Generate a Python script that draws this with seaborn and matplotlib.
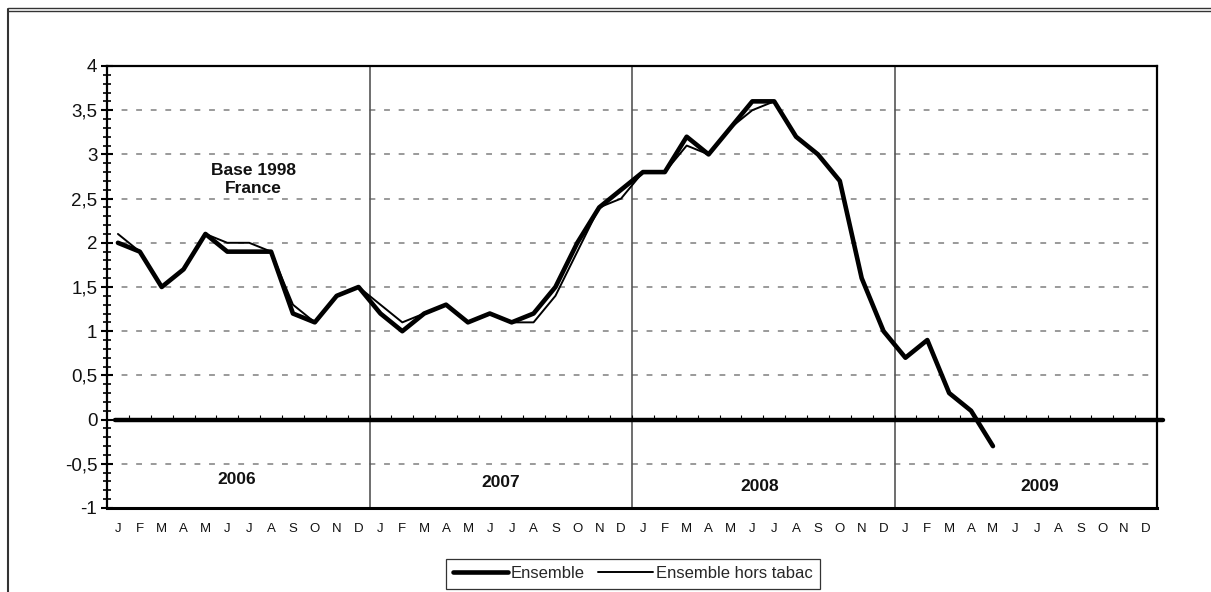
import numpy as np
import pandas as pd
import seaborn as sns
import matplotlib.pyplot as plt
from matplotlib.lines import Line2D
from matplotlib.ticker import MultipleLocator

# ---------------- data ----------------
months = ["J", "F", "M", "A", "M", "J", "J", "A", "S", "O", "N", "D"] * 4
years = ["2006", "2007", "2008", "2009"]
ensemble = [2.0, 1.9, 1.5, 1.7, 2.1, 1.9, 1.9, 1.9, 1.2, 1.1, 1.4, 1.5,
            1.2, 1.0, 1.2, 1.3, 1.1, 1.2, 1.1, 1.2, 1.5, 2.0, 2.4, 2.6,
            2.8, 2.8, 3.2, 3.0, 3.3, 3.6, 3.6, 3.2, 3.0, 2.7, 1.6, 1.0,
            0.7, 0.9, 0.3, 0.1, -0.3]
hors_tabac = [2.1, 1.9, 1.5, 1.7, 2.1, 2.0, 2.0, 1.9, 1.3, 1.1, 1.4, 1.5,
              1.3, 1.1, 1.2, 1.3, 1.1, 1.2, 1.1, 1.1, 1.4, 1.9, 2.4, 2.5,
              2.8, 2.8, 3.1, 3.0, 3.3, 3.5, 3.6, 3.2, 3.0, 2.7, 1.6, 1.0,
              0.7, 0.9, 0.3, 0.1, -0.3]
ytick_values = [-1, -0.5, 0, 0.5, 1, 1.5, 2, 2.5, 3, 3.5, 4]
ytick_labels = ["-1", "-0,5", "0", "0,5", "1", "1,5", "2", "2,5", "3", "3,5", "4"]
series_names = ["Ensemble", "Ensemble hors tabac"]
annotation = "Base 1998\nFrance"

# ---------------- style ----------------
sns.set_theme(style="white")
plt.rcParams["font.family"] = ["Liberation Sans", "DejaVu Sans"]

W, H = 1211, 592
fig = plt.figure(figsize=(W / 100, H / 100), dpi=100)
fig.patch.set_facecolor("white")
ax = fig.add_axes([107 / W, 1 - 508 / H, 1050 / W, 442 / H])

df = pd.DataFrame({
    "t": list(range(len(ensemble))) + list(range(len(hors_tabac))),
    "v": ensemble + hors_tabac,
    "s": [series_names[0]] * len(ensemble) + [series_names[1]] * len(hors_tabac),
})

sns.lineplot(data=df[df.s == series_names[0]], x="t", y="v", ax=ax,
             color="black", linewidth=3.3, label=series_names[0], zorder=5)
sns.lineplot(data=df[df.s == series_names[1]], x="t", y="v", ax=ax,
             color="black", linewidth=1.4, label=series_names[1], zorder=6)
handles, labels = ax.get_legend_handles_labels()
if ax.get_legend() is not None:
    ax.get_legend().remove()

n = len(months)
ax.set_xlim(-0.5, n - 0.5)
ax.set_ylim(-1, 4)
ax.set_xlabel("")
ax.set_ylabel("")

# x ticks: month initials
ax.set_xticks(np.arange(n))
ax.set_xticklabels(months, fontsize=9.5, color="#111111")
ax.tick_params(axis="x", which="both", length=0, pad=11, bottom=False)

# y ticks
ax.set_yticks(ytick_values)
ax.set_yticklabels(ytick_labels, fontsize=13.5, color="#111111")
ax.yaxis.set_minor_locator(MultipleLocator(0.1))
ax.tick_params(axis="y", which="major", left=True, direction="inout",
               length=8, width=1.5, pad=3, color="black")
ax.tick_params(axis="y", which="minor", left=True, direction="inout",
               length=6, width=1.2, color="black")

# grid
ax.grid(False)
ax.yaxis.grid(True, which="major", color="#9a9a9a",
              linestyle=(0, (3, 4.5)), linewidth=1.4, zorder=0)
ax.set_axisbelow(True)

# year separators
for k in range(1, len(years)):
    ax.axvline(12 * k - 0.5, color="#555555", linewidth=1.2, zorder=2)

# zero line with small month ticks
ax.axhline(0, xmin=8 / 1050, xmax=1 + 6 / 1050, color="black",
           linewidth=3.2, zorder=4, clip_on=False)
ax.vlines(np.arange(n) + 0.5, 0, 0.05, color="black", linewidth=0.8, zorder=4)

# spines
for side, sp in ax.spines.items():
    sp.set_visible(True)
    sp.set_color("black")
    sp.set_linewidth(1.6)
ax.spines["bottom"].set_linewidth(2.2)

# annotations
ax.text(6.2, 2.72, annotation, ha="center", va="center", fontsize=12.5,
        fontweight="bold", linespacing=1.25, color="#111111")
year_pos = [(5.45, -0.68), (17.5, -0.71), (29.35, -0.76), (42.15, -0.76)]
for yr, (xx, yy) in zip(years, year_pos):
    ax.text(xx, yy, yr, ha="center", va="center", fontsize=12.5,
            fontweight="bold", color="#111111")

# legend
leg = fig.legend(handles, labels, loc="center",
                 bbox_to_anchor=(633 / W, 1 - 573.5 / H), ncol=2,
                 frameon=True, fancybox=False, framealpha=1,
                 edgecolor="#333333", fontsize=12, handlelength=3.3,
                 handletextpad=0.15, columnspacing=0.8, borderpad=0.45,
                 borderaxespad=0)
leg.get_frame().set_linewidth(0.9)

# figure frame lines
fig.add_artist(Line2D([8 / W, 8 / W], [0, 1 - 9 / H], transform=fig.transFigure,
                      color="#333333", linewidth=1.5))
fig.add_artist(Line2D([8 / W, 1], [1 - 8 / H, 1 - 8 / H], transform=fig.transFigure,
                      color="#333333", linewidth=1.0))
fig.add_artist(Line2D([8 / W, 1], [1 - 11 / H, 1 - 11 / H], transform=fig.transFigure,
                      color="#333333", linewidth=1.0))

fig.savefig("out.png", dpi=100)
